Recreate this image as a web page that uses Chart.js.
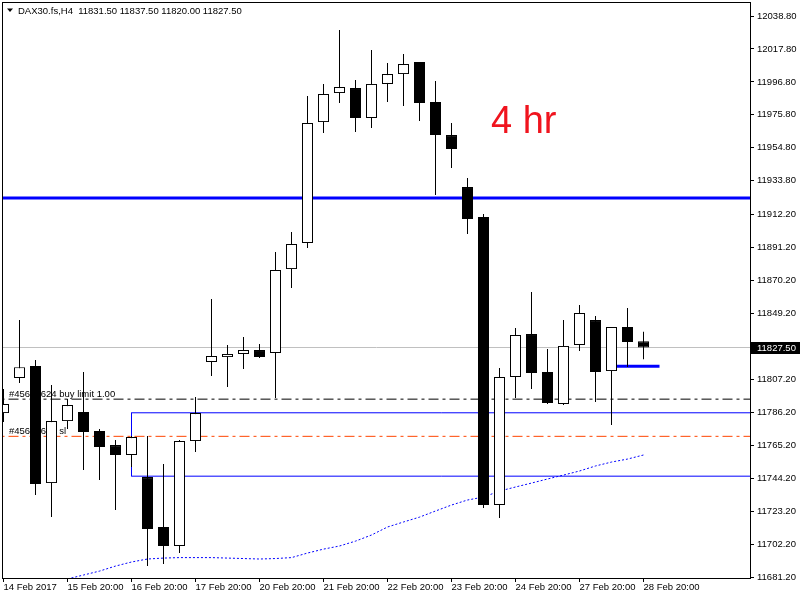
<!DOCTYPE html>
<html>
<head>
<meta charset="utf-8">
<title>DAX30.fs,H4</title>
<script src="https://cdn.jsdelivr.net/npm/chart.js@4.4.0/dist/chart.umd.min.js"></script>
<style>
  html, body { margin: 0; padding: 0; background: #fff; }
  #wrap { width: 800px; height: 600px; }
</style>
</head>
<body>
<div id="wrap"><canvas id="grafico" width="800" height="600"></canvas></div>
<script>
// Datos de las velas H4
const simbolo = 'DAX30.fs,H4';
const opens  = [11785.7, 11808.0, 11815.7, 11741.1, 11780.6, 11786.4, 11774.3, 11765.3, 11759.0, 11744.9,
                11713.1, 11701.0, 11767.9, 11818.3, 11821.4, 11823.4, 11825.9, 11824.0, 11877.5, 11894.1,
                11971.2, 11989.7, 11992.9, 11973.8, 11995.5, 12001.8, 12009.5, 11984.0, 11962.9, 11929.8,
                11910.7, 11727.1, 11808.7, 11836.1, 11811.9, 11791.5, 11829.1, 11845.0, 11812.5, 11840.6,
                11831.5];
const highs  = [11801.0, 11845.0, 11819.5, 11803.6, 11794.7, 11811.9, 11775.5, 11768.5, 11771.1, 11771.1,
                11753.2, 11768.5, 11795.9, 11858.4, 11829.1, 11834.2, 11829.7, 11888.4, 11901.1, 11987.8,
                11995.5, 12029.9, 11998.0, 12017.1, 12008.8, 12014.6, 12009.5, 11997.4, 11970.6, 11935.5,
                11912.6, 11814.4, 11839.9, 11862.9, 11826.5, 11845.0, 11854.6, 11847.6, 11840.6, 11852.7,
                11837.5];
const lows   = [11780.0, 11804.9, 11733.5, 11719.5, 11775.5, 11749.4, 11743.0, 11723.9, 11751.3, 11688.2,
                11689.5, 11696.5, 11760.9, 11809.3, 11802.3, 11813.8, 11820.8, 11795.3, 11865.4, 11890.9,
                11964.2, 11983.3, 11964.9, 11967.4, 11984.0, 11981.4, 11971.9, 11924.7, 11941.9, 11899.8,
                11725.2, 11718.8, 11795.3, 11801.0, 11791.5, 11790.8, 11825.3, 11792.8, 11778.1, 11815.1,
                11820.0];
const closes = [11791.5, 11815.0, 11740.5, 11780.6, 11790.8, 11773.6, 11764.1, 11759.0, 11770.4, 11711.8,
                11701.0, 11767.9, 11785.7, 11822.1, 11823.4, 11825.9, 11821.4, 11876.9, 11893.5, 11970.6,
                11989.1, 11993.5, 11973.8, 11995.5, 12001.8, 12008.2, 11983.3, 11962.9, 11954.0, 11909.4,
                11727.1, 11808.7, 11835.5, 11811.2, 11792.1, 11828.5, 11849.5, 11811.9, 11840.6, 11831.0,
                11827.5];

// Media móvil punteada (desde la vela 4)
const maInicio = 4;
const maValores = [11680.0, 11682.5, 11685.0, 11688.2, 11690.8, 11692.7, 11693.3, 11693.6, 11693.6, 11693.6,
                   11693.3, 11693.0, 11692.7, 11693.0, 11693.6, 11696.5, 11699.0, 11701.0, 11704.1, 11708.0,
                   11713.1, 11716.3, 11719.4, 11723.3, 11727.1, 11730.3, 11732.2, 11736.0, 11738.6, 11741.1,
                   11743.7, 11746.2, 11748.8, 11752.0, 11754.5, 11756.4, 11759.0];

// Niveles y objetos
const resistencia = 11922.8;
const bid = 11827.5;
const buyLimit = 11794.6;
const stopLoss = 11770.9;
const rectArriba = 11785.9;
const rectAbajo = 11745.5;
const rectDesde = 8;
const tramoNivel = 11815.5;
const tramoDesde = 38.3;
const tramoHasta = 41.0;
const ordenTexto = '#45693624 buy limit 1.00';
const slTexto = '#45693624 sl';

// Ejes
const yTicks = [12038.8, 12017.8, 11996.8, 11975.8, 11954.8, 11933.8, 11912.2, 11891.2, 11870.2, 11849.2,
                11807.2, 11786.2, 11765.2, 11744.2, 11723.2, 11702.2, 11681.2];
const xTicks = [0, 4, 8, 12, 16, 20, 24, 28, 32, 36, 40];
const xTickLabels = ['14 Feb 2017', '15 Feb 20:00', '16 Feb 20:00', '17 Feb 20:00', '20 Feb 20:00',
                     '21 Feb 20:00', '22 Feb 20:00', '23 Feb 20:00', '24 Feb 20:00', '27 Feb 20:00', '28 Feb 20:00'];

const FUENTE = "'Liberation Sans', Arial, sans-serif";
const X_MIN = -0.03125, X_MAX = 46.65625;

const cuerpos = opens.map((o, i) => ({ x: i, y: [o, closes[i]] }));
const mechas = lows.map((l, i) => ({ x: i, y: [l, highs[i]] }));
const media = maValores.map((v, i) => ({ x: maInicio + i, y: v }));

function nivel(valor, desde = -1, hasta = 48) {
    return [{ x: desde, y: valor }, { x: hasta, y: valor }];
}

function linea(data, color, ancho, dash) {
    return {
        type: 'line', data, borderColor: color, borderWidth: ancho, borderDash: dash || [],
        pointRadius: 0, tension: 0, fill: false, order: 2
    };
}

// Marco del área del gráfico
const marco = {
    id: 'marco',
    afterDraw(chart) {
        const { ctx, chartArea: a } = chart;
        ctx.save();
        ctx.strokeStyle = '#000';
        ctx.lineWidth = 1;
        ctx.strokeRect(a.left - 0.5, a.top - 0.5, a.right - a.left + 1, a.bottom - a.top + 1);
        // etiqueta del precio bid
        const y = chart.scales.y.getPixelForValue(bid);
        ctx.fillStyle = '#000';
        ctx.fillRect(a.right + 1, Math.round(y) - 6, 50, 12);
        ctx.fillStyle = '#fff';
        ctx.font = '9.5px ' + FUENTE;
        ctx.textBaseline = 'middle';
        ctx.fillText(bid.toFixed(2), a.right + 7, y + 0.5);
        ctx.restore();
    }
};

// Textos bajo las velas
const textos = {
    id: 'textos',
    beforeDatasetsDraw(chart) {
        const { ctx } = chart;
        const ys = chart.scales.y;
        ctx.save();
        ctx.fillStyle = '#000';
        ctx.beginPath();
        ctx.moveTo(7, 8.5); ctx.lineTo(13, 8.5); ctx.lineTo(10, 12);
        ctx.closePath();
        ctx.fill();
        ctx.font = '9.5px ' + FUENTE;
        ctx.textBaseline = 'middle';
        const n = opens.length - 1;
        const titulo = simbolo + '  ' + [opens[n], highs[n], lows[n], closes[n]].map(v => v.toFixed(2)).join(' ');
        ctx.fillText(titulo, 18, 11);
        ctx.textBaseline = 'bottom';
        ctx.fillText(ordenTexto, 9, ys.getPixelForValue(buyLimit) - 0.5);
        ctx.fillText(slTexto, 9, ys.getPixelForValue(stopLoss) - 0.5);
        ctx.fillStyle = '#f0141e';
        ctx.font = '38px ' + FUENTE;
        ctx.textBaseline = 'alphabetic';
        ctx.fillText('4 hr', 491, 133);
        ctx.restore();
    }
};

new Chart(document.getElementById('grafico'), {
    type: 'bar',
    data: {
        datasets: [
            {
                type: 'bar', data: cuerpos,
                backgroundColor: c => closes[c.dataIndex] >= opens[c.dataIndex] ? '#ffffff' : '#000000',
                borderColor: '#000', borderWidth: 1, borderSkipped: false,
                grouped: false, barThickness: 11, maxBarThickness: 11, inflateAmount: 0, order: 0
            },
            {
                type: 'bar', data: mechas, backgroundColor: '#000', borderWidth: 0,
                grouped: false, barThickness: 1, maxBarThickness: 1, inflateAmount: 0, order: 1
            },
            linea(nivel(bid), '#c0c0c0', 1),
            linea(nivel(resistencia), '#0000ff', 3),
            linea(nivel(buyLimit), '#000000', 1, [10, 4, 3, 4]),
            linea(nivel(stopLoss), '#ff4500', 1, [10, 4, 3, 4]),
            linea([{ x: 48, y: rectArriba }, { x: rectDesde, y: rectArriba },
                   { x: rectDesde, y: rectAbajo }, { x: 48, y: rectAbajo }], '#0000ff', 1),
            linea(nivel(tramoNivel, tramoDesde, tramoHasta), '#0000ff', 3),
            linea(media, '#0000ff', 1, [2, 2])
        ]
    },
    options: {
        responsive: false,
        animation: false,
        events: [],
        layout: { padding: { left: 3, top: 3, right: 0, bottom: 0 } },
        plugins: { legend: { display: false }, tooltip: { enabled: false } },
        scales: {
            x: {
                type: 'linear', min: X_MIN, max: X_MAX, offset: false,
                grid: { display: true, offset: false, drawOnChartArea: false, drawTicks: true, tickLength: 4, color: '#000' },
                border: { display: false },
                ticks: {
                    autoSkip: false, maxRotation: 0, align: 'start', padding: 0, color: '#000',
                    font: { family: FUENTE, size: 9.5 },
                    callback: v => xTickLabels[xTicks.indexOf(v)]
                },
                afterBuildTicks: s => { s.ticks = xTicks.map(v => ({ value: v })); },
                afterFit: s => { s.height = 22; s.paddingLeft = 0; s.paddingRight = 0; }
            },
            y: {
                type: 'linear', position: 'right', min: 11680.6, max: 12047.1,
                grid: { display: true, drawOnChartArea: false, drawTicks: true, tickLength: 4, color: '#000' },
                border: { display: false },
                ticks: {
                    autoSkip: false, padding: 3, color: '#000',
                    font: { family: FUENTE, size: 9.5 },
                    callback: v => v.toFixed(2)
                },
                afterBuildTicks: s => { s.ticks = yTicks.map(v => ({ value: v })); },
                afterFit: s => { s.width = 50; s.paddingTop = 0; s.paddingBottom = 0; }
            }
        }
    },
    plugins: [textos, marco]
});
</script>
</body>
</html>
